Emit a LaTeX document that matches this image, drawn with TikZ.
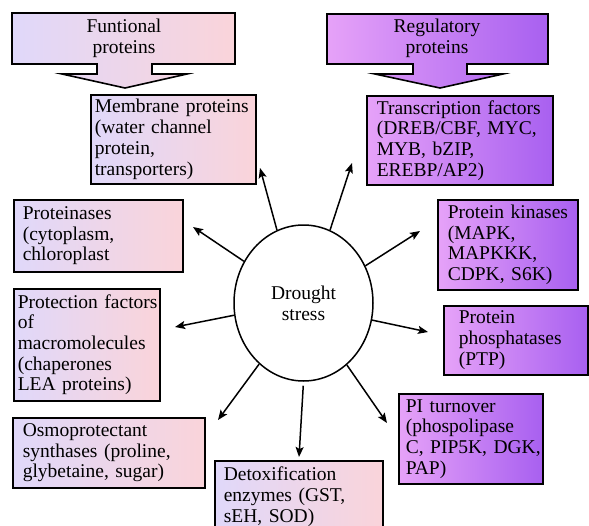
\documentclass[tikz,border=0pt]{standalone}
\usepackage{fontspec}
\setmainfont{Liberation Serif}
\usetikzlibrary{shapes.geometric,arrows.meta}
\begin{document}
\begin{tikzpicture}[x=1pt, y=-1pt,
  every node/.style={font=\fontsize{19.5}{20.7}\selectfont},
  funbox/.style={draw, line width=1.6pt, left color=funL, right color=funR,
    anchor=north west, align=left, inner ysep=2pt,
    execute at begin node={\hyphenpenalty=10000 \exhyphenpenalty=10000 }},
  regbox/.style={funbox, left color=regL, right color=regR},
  arr/.style={line width=1.5pt, -{Stealth[length=10pt,width=8pt,inset=2pt]}}]
  \definecolor{funL}{HTML}{E0D8FA}
  \definecolor{funR}{HTML}{FAD4DA}
  \definecolor{regL}{HTML}{E6A2F8}
  \definecolor{regR}{HTML}{A860F0}
  \useasboundingbox (0,0) rectangle (589,525);
  \clip (0,0) rectangle (589,525);
  % functional header
  \path[draw, line width=1.6pt, left color=funL, right color=funR]
    (12,13) -- (235,13) -- (235,64) -- (152,64) -- (152,74) -- (187,74) -- (125,88)
    -- (62,74) -- (97,74) -- (97,64) -- (12,64) -- cycle;
  \node[align=center] (fun) at (124,38) {Funtional\\proteins};
  % regulatory header
  \path[draw, line width=1.6pt, left color=regL, right color=regR]
    (327,14) -- (548,14) -- (548,64) -- (467,64) -- (467,74) -- (503,74) -- (440,88)
    -- (375,74) -- (413,74) -- (413,64) -- (327,64) -- cycle;
  \node[align=center] (reg) at (437,38) {Regulatory\\proteins};
  % functional proteins
  \node[funbox, inner xsep=4pt, text width=157pt, minimum height=89pt] (mem) at (90,94)
    {Membrane~proteins\\(water channel\\protein,\\transporters)};
  \node[funbox, inner xsep=9pt, text width=151pt, minimum height=72pt] (pase) at (13,199)
    {Proteinases\\(cytoplasm,\\chloroplast};
  \node[funbox, inner xsep=4pt, text width=138pt, minimum height=112pt] (pf) at (13,288)
    {Protection~factors\\of\\macromolecules\\(chaperones\\LEA proteins)};
  \node[funbox, inner xsep=10pt, text width=172pt, minimum height=70pt] (os) at (12,417)
    {Osmoprotectant\\synthases~(proline,\\glybetaine,~sugar)};
  \node[funbox, inner xsep=9pt, text width=150pt, minimum height=72pt] (dx) at (214,460)
    {Detoxification\\enzymes~(GST,\\sEH, SOD)};
  % regulatory proteins
  \node[regbox, inner xsep=10pt, text width=166pt, minimum height=89pt] (tf) at (366,95)
    {Transcription~factors\\(DREB/CBF,~MYC,\\MYB, bZIP,\\EREBP/AP2)};
  \node[regbox, inner xsep=10pt, text width=120pt, minimum height=90pt] (pk) at (437,199)
    {Protein~kinases\\(MAPK,\\MAPKKK,\\CDPK, S6K)};
  \node[regbox, inner xsep=15pt, text width=114pt, minimum height=69pt] (pp) at (443,305)
    {Protein\\phosphatases\\(PTP)};
  \node[regbox, inner xsep=7pt, text width=130pt, minimum height=90pt] (pi) at (398,393)
    {PI turnover\\(phospolipase\\C,~PIP5K,~DGK,\\PAP)};
  % drought stress
  \node[draw, ellipse, line width=1.5pt, fill=white, minimum width=139pt,
    minimum height=156pt, align=center] (ds) at (303.5,303) {Drought\\stress};
  \coordinate (t1) at (260,168);
  \coordinate (t2) at (352,163);
  \coordinate (t3) at (193,227);
  \coordinate (t4) at (175,327);
  \coordinate (t5) at (420,231);
  \coordinate (t6) at (428,332);
  \coordinate (t7) at (218,420);
  \coordinate (t8) at (299,457);
  \coordinate (t9) at (387,423);
  \foreach \a/\t in {110.6/t1, 70.8/t2, 145/t3, 190/t4, 31/t5, -14/t6, 234.6/t7, 305.6/t9}
    \draw[arr] (ds.\a) -- (\t);
  \draw[arr, shorten <=4pt] (ds.south) -- (t8);
\end{tikzpicture}
\end{document}
